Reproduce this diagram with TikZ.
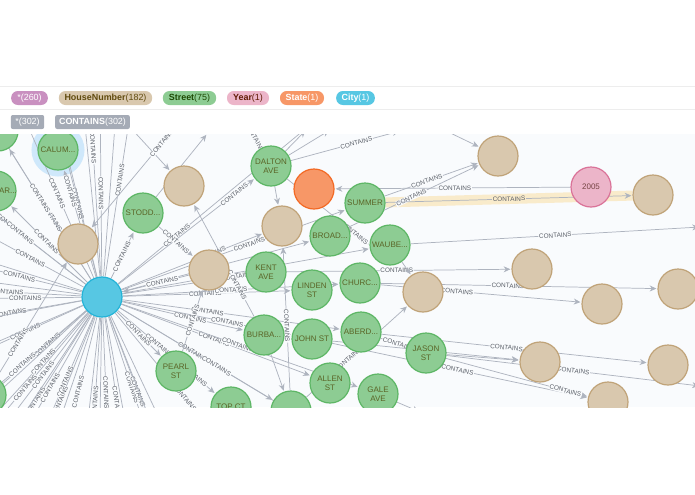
\documentclass[tikz,border=0pt]{standalone}
\usepackage{fontspec}
\setmainfont{Liberation Sans}
\usetikzlibrary{arrows.meta,backgrounds,calc}

\definecolor{canvascol}{HTML}{F9FBFD}
\definecolor{relcol}{HTML}{AEB4BF}
\definecolor{tagcol}{HTML}{A5ABB6}
\definecolor{lblcol}{HTML}{5A5F68}
\definecolor{glowcol}{HTML}{CFE8FB}
\definecolor{bandcol}{HTML}{F9EBCB}
\definecolor{anycol}{HTML}{C990C0}
\definecolor{housecol}{HTML}{D9C8AE}
\definecolor{streetcol}{HTML}{8DCC93}
\definecolor{yearcol}{HTML}{ECB5C9}
\definecolor{statecol}{HTML}{F79767}
\definecolor{citycol}{HTML}{57C7E3}
\definecolor{housedraw}{HTML}{C0A378}
\definecolor{streetdraw}{HTML}{5DB665}
\definecolor{yeardraw}{HTML}{DA7298}
\definecolor{statedraw}{HTML}{F36924}
\definecolor{citydraw}{HTML}{23B3D7}
\definecolor{olivetxt}{HTML}{5A6426}
\definecolor{browntxt}{HTML}{604A0E}

\tikzset{
  ball/.style={circle,minimum size=30pt,inner sep=0pt,line width=.9pt,align=center,
    font=\fontsize{6}{6.8}\selectfont},
  street/.style={ball,fill=streetcol,draw=streetdraw,text=olivetxt},
  house/.style={ball,fill=housecol,draw=housedraw},
  yearball/.style={ball,fill=yearcol,draw=yeardraw,text=browntxt!40!yeardraw!70!black},
  stateball/.style={ball,fill=statecol,draw=statedraw},
  cityball/.style={ball,fill=citycol,draw=citydraw},
  pill/.style={fill=#1,rounded corners=5pt,minimum height=10.5pt,inner sep=0pt,
    font=\fontsize{6.7}{7}\selectfont},
  tag/.style={fill=tagcol,rounded corners=1.5pt,minimum height=10.5pt,inner sep=0pt,text=white,
    font=\fontsize{6.7}{7}\selectfont},
  rel/.style={draw=relcol,line width=.55pt,shorten >=.8pt,-{Stealth[length=5pt,width=4.5pt]}},
  lbl/.style={font=\fontsize{4.8}{5}\selectfont,text=lblcol,fill=canvascol,inner sep=.5pt,sloped},
}

\begin{document}
\begin{tikzpicture}[x=.75pt,y=-.75pt]
  \useasboundingbox (0,0) rectangle (695,494);

  % legend
  \draw[black!7] (0,86) -- (695,86);
  \draw[black!7] (0,109) -- (695,109);
  \node[pill=anycol,text=white,minimum width=27.5pt] (anytag) at (29.5,98) {*(260)};
  \node[pill=housecol,text=browntxt,minimum width=70pt] (housetag) at (105.5,98) {\textbf{HouseNumber}(182)};
  \node[pill=streetcol,text=browntxt!60!green!50!black,minimum width=40pt] (streettag) at (189.5,98) {\textbf{Street}(75)};
  \node[pill=yearcol,text=browntxt!60!red!60!black,minimum width=31.5pt] (yeartag) at (248,98) {\textbf{Year}(1)};
  \node[pill=statecol,text=white,minimum width=33pt] (statetag) at (302,98) {\textbf{State}(1)};
  \node[pill=citycol,text=white,minimum width=29pt] (citytag) at (355.5,98) {\textbf{City}(1)};
  \node[tag,minimum width=25pt] (anyrel) at (27.5,122) {*(302)};
  \node[tag,minimum width=56pt] (containsrel) at (92.5,122) {\textbf{CONTAINS}(302)};

  % nodes
  \begin{scope}
    \clip (0,134) rectangle (695,407);
    \node[cityball] (city) at (102,297) {};

    \node[street] (corner) at (-2,131) {};
    \node[street] (calum) at (58,150) {CALUM...};
    \node[street] (dalton) at (271,166) {DALTON\\AVE};
    \node[street] (stodd) at (143,213) {STODD...};
    \node[street] (summer) at (365,203) {SUMMER};
    \node[street] (broad) at (330,236) {BROAD...};
    \node[street] (waube) at (390,245) {WAUBE...};
    \node[street] (kent) at (266,272) {KENT\\AVE};
    \node[street] (linden) at (312,290) {LINDEN\\ST};
    \node[street] (churc) at (360,283) {CHURC...};
    \node[street] (burba) at (264,335) {BURBA...};
    \node[street] (john) at (312,339) {JOHN ST};
    \node[street] (aberd) at (361,332) {ABERD...};
    \node[street] (jason) at (426,353) {JASON\\ST};
    \node[street] (pearl) at (176,371) {PEARL\\ST};
    \node[street] (topct) at (231,407) {TOP CT};
    \node[street] (allen) at (330,383) {ALLEN\\ST};
    \node[street] (gale) at (378,394) {GALE\\AVE};
    \node[street] (lower) at (291,411) {};
    \node[street] (leftar) at (-4,191) {};
    \node[street] (leftlow) at (-14,395) {};
    \node[font=\fontsize{6}{6.8}\selectfont,text=olivetxt] (leftarname) at (8,191) {AR...};

    \node[house] (housea) at (184,186) {};
    \node[house] (houseb) at (78,244) {};
    \node[house] (housec) at (282,226) {};
    \node[house] (housed) at (209,270) {};
    \node[house] (housee) at (498,156) {};
    \node[house] (housef) at (653,195) {};
    \node[house] (houseg) at (423,292) {};
    \node[house] (househ) at (532,269) {};
    \node[house] (housei) at (602,304) {};
    \node[house] (housej) at (678,289) {};
    \node[house] (housek) at (540,362) {};
    \node[house] (housel) at (668,365) {};
    \node[house] (housem) at (608,402) {};

    \node[stateball] (state) at (314,189) {};
    \node[yearball] (year) at (591,187) {2005};
  \end{scope}

  % relationships go under the nodes
  \begin{scope}[on background layer]
    \clip (0,134) rectangle (695,407);
    \fill[canvascol] (0,134) rectangle (695,407);
    \fill[glowcol] (calum) circle (19.9pt);
    \draw[bandcol,line width=7.5pt] (summer) -- (housef);

    % free ends round the city, with a label
    \foreach \lx/\ly [count=\i] in {30/258,19/276,7/292,25/298,10/313,25/332,47/345,22/365,
        43/362,43/375,25/388,50/388,65/382,78/392,106/393,35/402,60/402,95/403,117/403,
        132/388,138/392,185/398,10/225,20/233,52/217,57/193,78/203,101/193,120/180,93/147,
        177/235,193/352}{
      \coordinate (far\i) at ($(city)!3!(\lx,\ly)$);
      \pgfmathsetmacro\reach{veclen(\lx-102,\ly-297)}
      \pgfmathsetmacro\where{(\reach-21)/(3*\reach-21)}
      \draw[rel] (city) -- node[lbl,pos=\where] {CONTAINS} (far\i);
    }
    % and without one
    \foreach \ex/\ey [count=\i] in {-10/345,-10/318,-10/282,-10/262,-10/400,20/420,60/420,
        88/420,100/420,125/420,150/420,160/420,85/125,115/125,60/125}{
      \coordinate (open\i) at (\ex,\ey);
      \draw[rel] (city) -- (open\i);
    }

    \draw[rel] (city) -- node[lbl,pos=.57] {CONTAINS} (summer);
    \draw[rel] (city) -- node[lbl,pos=.63] {CONTAINS} (housec);
    \draw[rel] (city) -- node[lbl,pos=.85] {CONTAINS} (dalton);
    \draw[rel] (city) -- node[lbl,pos=.93] {CONTAINS} (kent);
    \draw[rel] (city) -- node[lbl,pos=.49] {CONTAINS} (linden);
    \draw[rel] (city) -- node[lbl,pos=.5] {CONTAINS} (churc);
    \draw[rel] (city) -- node[lbl,pos=.56] {CONTAINS} (burba);
    \draw[rel] (city) -- node[lbl,pos=.62] {CONTAINS} (john);
    \draw[rel] (city) -- node[lbl,pos=.39] {CONTAINS} (aberd);
    \draw[rel] (city) -- node[lbl,pos=.49] {CONTAINS} (allen);
    \draw[rel] (city) -- node[lbl,pos=.49] {CONTAINS} (gale);
    \draw[rel] (city) -- node[lbl,pos=.63] {CONTAINS} (lower);
    \draw[rel] (city) -- node[lbl,pos=.42] {CONTAINS} node[lbl,pos=.78] {CONTAINS} (topct);
    \draw[rel] (city) -- node[lbl,pos=.49] {CONTAINS} (pearl);
    \draw[rel] (city) -- node[lbl,pos=.47] {CONTAINS} (stodd);
    \draw[rel] (city) -- node[lbl,pos=.8] {CONTAINS} (calum);
    \draw[rel] (city) -- node[lbl,pos=.62] {CONTAINS} (corner);
    \draw[rel] (city) -- node[lbl,pos=.53] {CONTAINS} (leftar);
    \draw[rel] (city) -- (broad);
    \draw[rel] (city) -- (waube);
    \draw[rel] (housed) -- node[lbl,pos=.4] {CONTAINS} (city);

    \draw[rel] (stodd) -- node[lbl] {CONTAINS} (housed);
    \draw[rel] (pearl) -- node[lbl] {CONTAINS} (housed);
    \draw[rel] (burba) -- node[lbl,pos=.28] {CONTAINS} (housea);
    \draw[rel] (lower) -- node[lbl,pos=.45] {CONTAINS} (housec);
    \draw[rel] (lower) -- node[lbl,pos=.41] {CONTAINS} (houseg);
    \draw[rel] (burba) -- (lower);
    \draw[rel] (leftlow) -- node[lbl,pos=.3] {CONTAINS} (houseb);
    \draw[rel] (dalton) -- (housec);
    \draw[rel] (dalton) -- node[lbl,pos=.82] {CONTAINS} (waube.west);

    \coordinate (topa) at (246,122);
    \coordinate (topb) at (118,114);
    \coordinate (topc) at (177,125);
    \coordinate (topd) at (207,134);
    \coordinate (tope) at (400,131);
    \coordinate (topf) at (306,130);
    \coordinate (topg) at (330,130);
    \coordinate (toph) at (440,128);
    \coordinate (rightw) at (700,227);
    \coordinate (rightj) at (700,386);
    \coordinate (lowg) at (420,412);
    \draw[rel] (topa) -- node[lbl,pos=.6] {CONTAINS} (dalton);
    \draw[rel] (topb) -- (housea);
    \draw[rel] (topc) -- node[lbl,pos=.18] {CONTAINS} (houseb);
    \draw[rel] (stodd) -- (topd);
    \draw[rel] (dalton) -- node[lbl,pos=.6] {CONTAINS} (tope);
    \draw[rel] (dalton) -- (topf);
    \draw[rel] (dalton) -- (topg);
    \draw[rel] (toph) -- (housee);

    \draw[rel] (summer) -- node[lbl,pos=.45] {CONTAINS} (housee);
    \draw[rel] (broad) -- node[lbl,pos=.48] {CONTAINS} (housee);
    \draw[rel] (year) -- node[lbl,pos=.49] {CONTAINS} (state);
    \draw[rel] (summer) -- node[lbl,pos=.5,fill=bandcol] {CONTAINS} (housef);
    \draw[rel] (waube) -- node[lbl,pos=.5] {CONTAINS} (rightw);
    \draw[rel] (kent) -- node[lbl,pos=.49] {CONTAINS} (househ);
    \draw[rel] (waube) -- (houseg);
    \draw[rel] (churc) -- node[lbl,pos=.46] {CONTAINS} (housej);
    \draw[rel] (churc) -- node[lbl,pos=.38] {CONTAINS} (housei);
    \draw[rel] (aberd) -- node[lbl,pos=.47] {CONTAINS} (housel);
    \draw[rel] (aberd) -- node[lbl,pos=.7] {CONTAINS} (jason);
    \draw[rel] (john) -- node[lbl,pos=.49] {CONTAINS} (housem);
    \draw[rel] (jason) -- node[lbl,pos=.84] {CONTAINS} (housem);
    \draw[rel] (jason) -- (housek);
    \draw[rel] (john) -- (housek);
    \draw[rel] (jason) -- node[lbl,pos=.5] {CONTAINS} (rightj);
    \draw[rel] (gale) -- (lowg);
  \end{scope}
\end{tikzpicture}
\end{document}
